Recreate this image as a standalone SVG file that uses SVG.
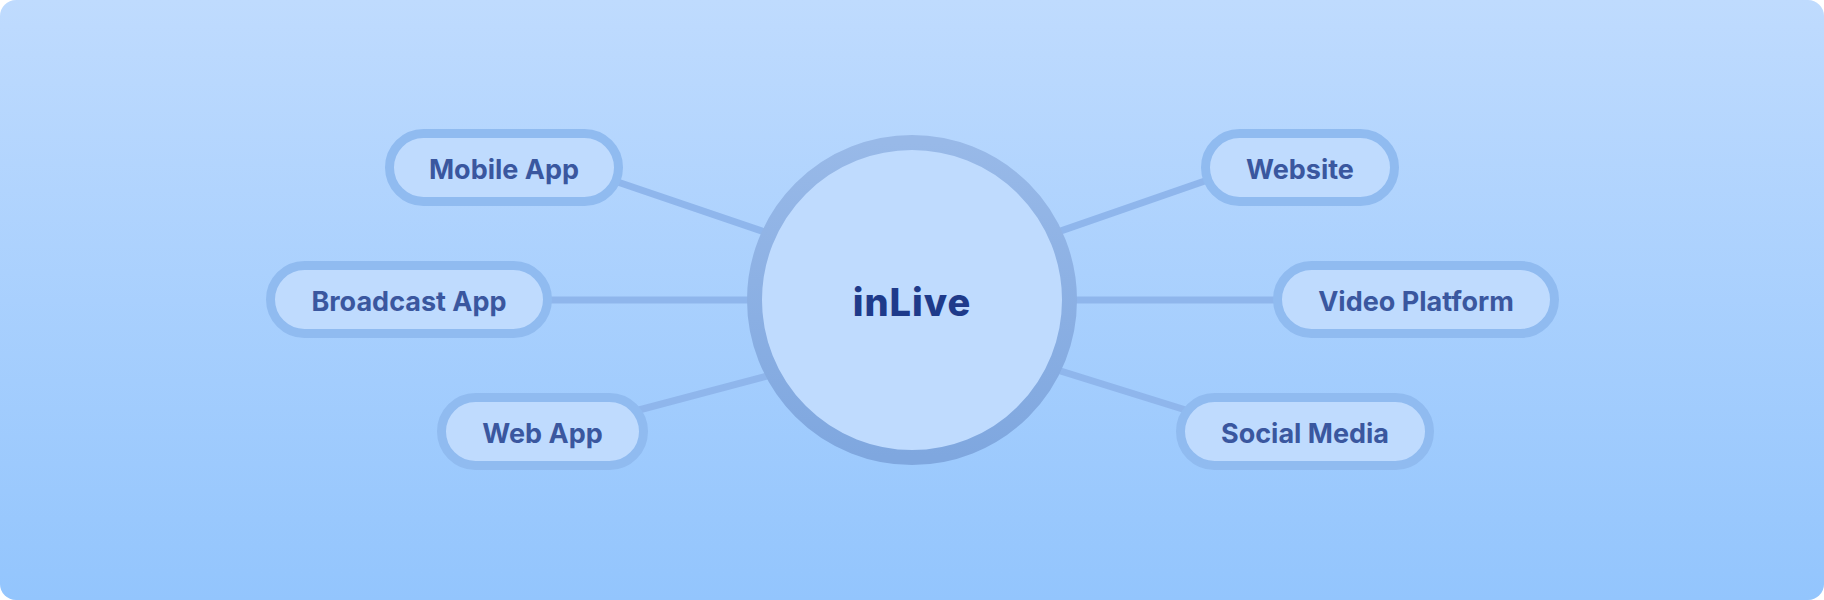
<svg xmlns="http://www.w3.org/2000/svg" width="1824" height="600" viewBox="0 0 1824 600">
  <defs>
    <linearGradient id="bg" x1="0" y1="0" x2="0" y2="1">
      <stop offset="0" stop-color="#bfdbfe"/>
      <stop offset="1" stop-color="#93c5fd"/>
    </linearGradient>
    <linearGradient id="ring" x1="0" y1="0" x2="0" y2="1">
      <stop offset="0" stop-color="#98b9e8"/>
      <stop offset="1" stop-color="#7fa7df"/>
    </linearGradient>
    <style>
      .pill { fill: #bfdbfe; stroke: #90bbf0; stroke-width: 9; }
      .pill-text { font-family: Inter, "Liberation Sans", sans-serif; font-weight: 700; font-size: 27px; fill: #3a579f; text-anchor: middle; dominant-baseline: central; }
      .conn { stroke: #8fb6ec; stroke-width: 7; stroke-linecap: round; fill: none; }
      .hub { fill: #bfdbfe; stroke: url(#ring); stroke-width: 15; }
      .hub-text { font-family: Inter, "Liberation Sans", sans-serif; font-weight: 800; font-size: 38px; letter-spacing: 1px; fill: #1e3a8a; text-anchor: middle; dominant-baseline: central; }
    </style>
  </defs>
  <rect x="0" y="0" width="1824" height="600" rx="16" ry="16" fill="url(#bg)"/>
  <g id="connectors">
    <line class="conn" x1="600" y1="176" x2="850" y2="261"/>
    <line class="conn" x1="540" y1="300" x2="780" y2="300"/>
    <line class="conn" x1="620" y1="415" x2="850" y2="354"/>
    <line class="conn" x1="1225" y1="174" x2="974" y2="261"/>
    <line class="conn" x1="1290" y1="300" x2="1045" y2="300"/>
    <line class="conn" x1="1205" y1="416" x2="974" y2="344"/>
  </g>
  <g id="hub">
    <circle class="hub" cx="912" cy="300" r="157.5"/>
    <text class="hub-text" x="912" y="302">inLive</text>
  </g>
  <g id="mobile-app">
    <rect class="pill" x="389.5" y="133.5" width="229" height="68" rx="34"/>
    <text class="pill-text" x="504" y="169">Mobile App</text>
  </g>
  <g id="broadcast-app">
    <rect class="pill" x="270.5" y="265.5" width="277" height="68" rx="34"/>
    <text class="pill-text" x="409" y="301">Broadcast App</text>
  </g>
  <g id="web-app">
    <rect class="pill" x="441.5" y="397.5" width="202" height="68" rx="34"/>
    <text class="pill-text" x="542.5" y="433">Web App</text>
  </g>
  <g id="website">
    <rect class="pill" x="1205.5" y="133.5" width="189" height="68" rx="34"/>
    <text class="pill-text" x="1300" y="169">Website</text>
  </g>
  <g id="video-platform">
    <rect class="pill" x="1277.5" y="265.5" width="277" height="68" rx="34"/>
    <text class="pill-text" x="1416" y="301">Video Platform</text>
  </g>
  <g id="social-media">
    <rect class="pill" x="1180.5" y="397.5" width="249" height="68" rx="34"/>
    <text class="pill-text" x="1305" y="433">Social Media</text>
  </g>
</svg>
